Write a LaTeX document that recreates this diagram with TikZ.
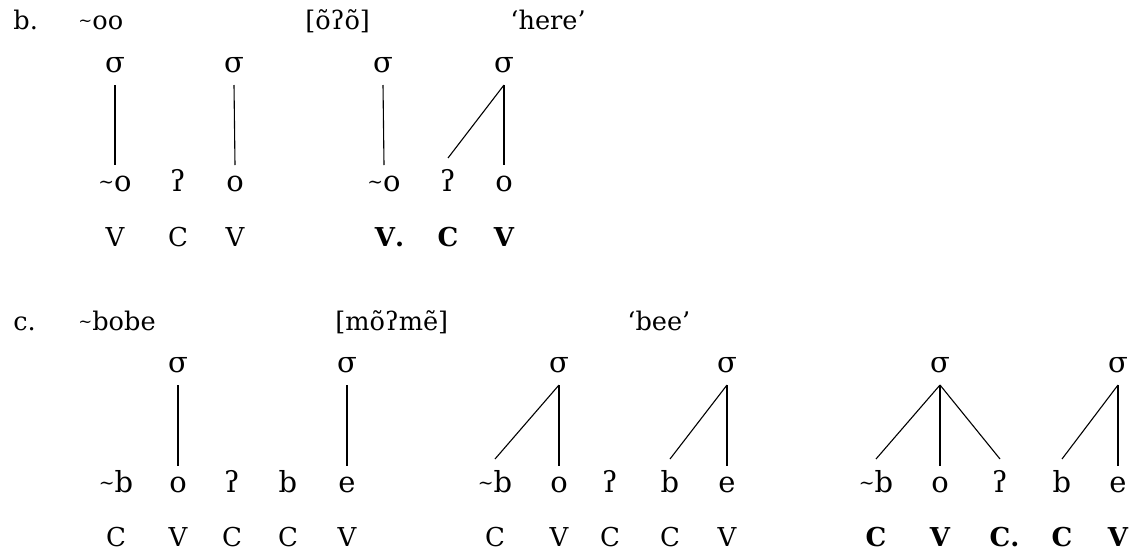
\documentclass[tikz,border=0pt]{standalone}
\usepackage{fontspec}
\setmainfont{DejaVu Serif}
\usepackage{graphicx}
\newcommand\tld{\raisebox{0.08em}{\scalebox{0.65}{\textasciitilde}}}
\tikzset{
  lab/.style={anchor=base west, inner sep=0pt, font=\fontsize{12.8}{15}\selectfont},
  syl/.style={anchor=base, inner sep=0pt, outer sep=0pt, text depth=6.5pt, font=\fontsize{14.5}{16}\selectfont},
  seg/.style={anchor=base, inner sep=0pt, outer sep=0pt, text height=13pt, font=\fontsize{14.5}{16}\selectfont},
  cv/.style={anchor=base, inner sep=0pt, font=\fontsize{13}{15}\selectfont},
  cvb/.style={anchor=base, inner sep=0pt, font=\fontsize{13}{15}\selectfont\bfseries},
  assoc/.style={line width=0.55pt},
}
\begin{document}
\begin{tikzpicture}[x=0.5pt,y=-0.5pt]
\useasboundingbox (0,0) rectangle (1139,552);
% ---------------- row b ----------------
\node[lab] (bnum)  at (13,29)  {b.};
\node[lab] (bund)  at (78,29)  {\tld oo};
\node[lab] (bsurf) at (305,29) {[õʔõ]};
\node[lab] (bgl)   at (510,29) {‘here’};
% tree b1
\node[syl] (bAs1) at (115,72) {σ};
\node[syl] (bAs2) at (234,72) {σ};
\node[seg] (bAa) at (115,191) {\tld o};
\node[seg] (bAb) at (178,191) {ʔ};
\node[seg] (bAc) at (235,191) {o};
\node[cv] (bAva) at (115,246) {V};
\node[cv] (bAvb) at (178,246) {C};
\node[cv] (bAvc) at (235,246) {V};
\draw[assoc] (bAs1.south) -- (bAa.north);
\draw[assoc] (bAs2.south) -- (bAc.north);
% tree b2
\node[syl] (bBs1) at (383,72) {σ};
\node[syl] (bBs2) at (504,72) {σ};
\node[seg] (bBa) at (384,191) {\tld o};
\node[seg] (bBb) at (448,191) {ʔ};
\node[seg] (bBc) at (504,191) {o};
\node[cvb] (bBva) at (385,246) {V\rlap{.}};
\node[cvb] (bBvb) at (448,246) {C};
\node[cvb] (bBvc) at (504,246) {V};
\draw[assoc] (bBs1.south) -- (bBa.north);
\draw[assoc] (bBs2.south) -- (bBc.north);
\draw[assoc] (bBs2.south) -- ([yshift=3.5pt]bBb.north);
% ---------------- row c ----------------
\node[lab] (cnum)  at (13,330)  {c.};
\node[lab] (cund)  at (78,330)  {\tld bobe};
\node[lab] (csurf) at (335,330) {[mõʔmẽ]};
\node[lab] (cgl)   at (627,330) {‘bee’};
% tree c1
\node[syl] (cAs1) at (178,372) {σ};
\node[syl] (cAs2) at (347,372) {σ};
\node[seg] (cAa) at (116,492) {\tld b};
\node[seg] (cAb) at (178,492) {o};
\node[seg] (cAc) at (232,492) {ʔ};
\node[seg] (cAd) at (288,492) {b};
\node[seg] (cAe) at (347,492) {e};
\node[cv] (cAva) at (116,546) {C};
\node[cv] (cAvb) at (178,546) {V};
\node[cv] (cAvc) at (232,546) {C};
\node[cv] (cAvd) at (288,546) {C};
\node[cv] (cAve) at (347,546) {V};
\draw[assoc] (cAs1.south) -- (cAb.north);
\draw[assoc] (cAs2.south) -- (cAe.north);
% tree c2
\node[syl] (cBs1) at (559,372) {σ};
\node[syl] (cBs2) at (727,372) {σ};
\node[seg] (cBa) at (495,492) {\tld b};
\node[seg] (cBb) at (559,492) {o};
\node[seg] (cBc) at (610,492) {ʔ};
\node[seg] (cBd) at (670,492) {b};
\node[seg] (cBe) at (727,492) {e};
\node[cv] (cBva) at (495,546) {C};
\node[cv] (cBvb) at (559,546) {V};
\node[cv] (cBvc) at (610,546) {C};
\node[cv] (cBvd) at (670,546) {C};
\node[cv] (cBve) at (727,546) {V};
\draw[assoc] (cBs1.south) -- (cBb.north);
\draw[assoc] (cBs1.south) -- ([yshift=3.5pt]cBa.north);
\draw[assoc] (cBs2.south) -- (cBe.north);
\draw[assoc] (cBs2.south) -- ([yshift=3.5pt]cBd.north);
% tree c3
\node[syl] (cCs1) at (940,372) {σ};
\node[syl] (cCs2) at (1118,372) {σ};
\node[seg] (cCa) at (876,492) {\tld b};
\node[seg] (cCb) at (940,492) {o};
\node[seg] (cCc) at (1000,492) {ʔ};
\node[seg] (cCd) at (1062,492) {b};
\node[seg] (cCe) at (1118,492) {e};
\node[cvb] (cCva) at (876,546) {C};
\node[cvb] (cCvb) at (940,546) {V};
\node[cvb] (cCvc) at (1000,546) {C\rlap{.}};
\node[cvb] (cCvd) at (1062,546) {C};
\node[cvb] (cCve) at (1118,546) {V};
\draw[assoc] (cCs1.south) -- (cCb.north);
\draw[assoc] (cCs1.south) -- ([yshift=3.5pt]cCa.north);
\draw[assoc] (cCs1.south) -- ([yshift=3.5pt]cCc.north);
\draw[assoc] (cCs2.south) -- (cCe.north);
\draw[assoc] (cCs2.south) -- ([yshift=3.5pt]cCd.north);
\end{tikzpicture}
\end{document}
